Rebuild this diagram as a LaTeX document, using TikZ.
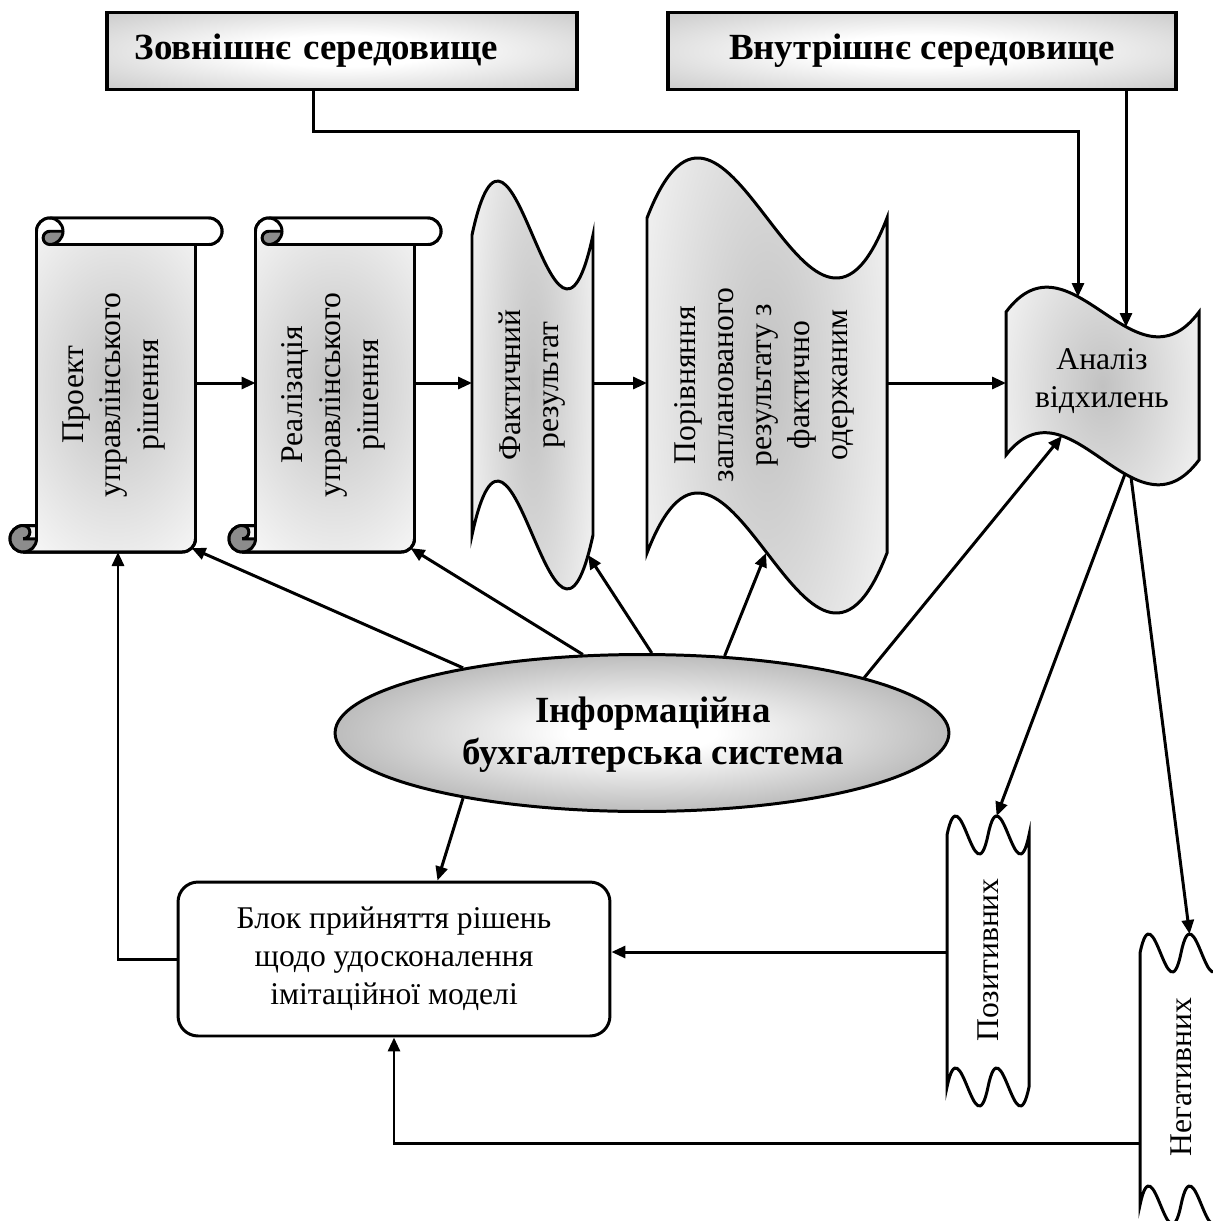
\documentclass[tikz,border=0pt]{standalone}
\usepackage{fontspec}
\setmainfont{Liberation Serif}
\usetikzlibrary{shapes.geometric,arrows.meta}
\pgfdeclareradialshading{bodyshade}{\pgfpoint{0bp}{0bp}}{color(0bp)=(black!24);
  color(14bp)=(black!15); color(32bp)=(black!3); color(42bp)=(white); color(50bp)=(white)}
\pgfdeclareradialshading{ovalshade}{\pgfpoint{0bp}{0bp}}{color(0bp)=(white);
  color(6bp)=(white); color(30bp)=(black!33); color(45bp)=(black!45); color(50bp)=(black!48)}
\pgfdeclareradialshading{envshade}{\pgfpoint{0bp}{0bp}}{color(0bp)=(white);
  color(10bp)=(white); color(35bp)=(black!20); color(50bp)=(black!32)}

\begin{document}
\begin{tikzpicture}[x=0.02cm,y=-0.02cm]
      \colorlet{curlgray}{black!45}
      \tikzset{thickln/.style={line width=1.7pt},
        conn/.style={thickln,-{Triangle[length=0.28cm,width=0.24cm]}},
        wavefill/.style n args={4}{path picture={\shade[shading=bodyshade] (#1,#2) rectangle (#3,#4);}},
        envbox/.style={draw,line width=2pt,shade,shading=envshade,
          minimum height=1.54cm,font=\fontsize{21}{24}\selectfont\bfseries},
        boldtxt/.style={font=\fontsize{21}{24}\selectfont\bfseries,align=center},
        txt/.style={font=\fontsize{18}{21.6}\selectfont,align=center,inner sep=0pt},
        vtxt/.style={txt,rotate=90}}
      \path[use as bounding box,clip] (0,0) rectangle (1213,1221);

      \node[envbox,minimum width=9.4cm,text width=8.3cm,align=left] (ext) at (342,51)
          {Зовнішнє середовище};
      \node[envbox,minimum width=10.16cm] (int) at (922,51) {Внутрішнє середовище};

      \foreach \sx in {10,229}{
        \begin{scope}[shift={(\sx,218)}]
          \draw[thickln,shade,shading=bodyshade] (26.5,307.5) -- (26.5,13.25)
              arc[start angle=180,end angle=270,radius=13.25] -- (198.75,0)
              arc[start angle=270,end angle=450,radius=13.25] -- (185.5,26.5) -- (185.5,320.75)
              arc[start angle=0,end angle=90,radius=13.25] -- (13.25,334)
              arc[start angle=90,end angle=270,radius=13.25] -- cycle;
          \fill[white] (39.75,0) -- (198.75,0) arc[start angle=270,end angle=450,radius=13.25]
              -- (39.75,26.5) arc[start angle=90,end angle=270,radius=13.25];
          \fill[curlgray] (53,13.25) arc[start angle=0,end angle=90,radius=13.25]
              arc[start angle=90,end angle=270,radius=6.625] -- cycle;
          \fill[curlgray] (26.5,320.75) arc[start angle=0,end angle=270,radius=13.25]
              arc[start angle=270,end angle=450,radius=6.625] -- cycle;
          \draw[thickln] (26.5,307.5) -- (26.5,13.25)
              arc[start angle=180,end angle=270,radius=13.25] -- (198.75,0)
              arc[start angle=270,end angle=450,radius=13.25] -- (185.5,26.5) -- (185.5,320.75)
              arc[start angle=0,end angle=90,radius=13.25] -- (13.25,334)
              arc[start angle=90,end angle=270,radius=13.25] -- cycle;
          \draw[thickln] (39.75,0) arc[start angle=270,end angle=450,radius=13.25]
              arc[start angle=90,end angle=270,radius=6.625] -- (53,13.25);
          \draw[thickln] (185.5,26.5) -- (39.75,26.5);
          \draw[thickln] (13.25,307.5) arc[start angle=270,end angle=450,radius=6.625]
              -- (26.5,320.75);
          \draw[thickln] (13.25,334) arc[start angle=90,end angle=0,radius=13.25] -- (26.5,307.5);
        \end{scope}
      }
      \draw[thickln,fill=white,wavefill={472}{180}{593}{590}] (472,235)
          .. controls (512.3,48) and (552.7,422) .. (593,235)
          -- (593,535) .. controls (552.7,722) and (512.3,348) .. (472,535) -- cycle;
      \draw[thickln,fill=white,wavefill={647}{158}{887}{613}] (647,218)
          .. controls (727,10) and (807,426) .. (887,218)
          -- (887,553) .. controls (807,761) and (727,345) .. (647,553) -- cycle;
      \draw[thickln,fill=white,wavefill={1006}{287}{1199}{483}] (1006,312)
          .. controls (1070.3,226) and (1134.7,398) .. (1199,312)
          -- (1199,460) .. controls (1134.7,546) and (1070.3,374) .. (1006,455) -- cycle;
      \foreach \sx/\sy in {0/0,193/118}
        \draw[thickln,fill=white,shift={(\sx,\sy)}] (947,835)
            .. controls (960.7,769) and (974.3,901) .. (988,835)
            .. controls (1001.7,769) and (1015.3,901) .. (1029,835) -- (1029,1087)
            .. controls (1015.3,1153) and (1001.7,1021) .. (988,1087)
            .. controls (974.3,1153) and (960.7,1021) .. (947,1087) -- cycle;

      \node[vtxt] (proj) at (114,395) {Проект\\управлінського\\рішення};
      \node[vtxt] (real) at (333,395) {Реалізація\\управлінського\\рішення};
      \node[vtxt] (fact) at (532,385) {Фактичний\\результат};
      \node[vtxt] (comp) at (764,385)
          {Порівняння\\запланованого\\результату з\\фактично\\одержаним};
      \node[txt] (anal) at (1102,381) {Аналіз\\відхилень};
      \node[vtxt] (pos) at (988,960) {Позитивних};
      \node[vtxt] (neg) at (1181,1077) {Негативних};
      \node[draw,thickln,ellipse,shade,shading=ovalshade,
          minimum width=12.28cm,minimum height=3.14cm] (ibs) at (642,733) {};
      \node[boldtxt] (ibs-t) at (653,735) {Інформаційна\\бухгалтерська система};
      \node[draw,thickln,txt,rounded corners=0.4cm,left color=white,middle color=black!26,
          right color=white,minimum width=8.64cm,minimum height=3.08cm] (block) at (394,959)
          {Блок прийняття рішень\\щодо удосконалення\\імітаційної моделі};

      \coordinate (proj-e) at (195.5,383);
      \coordinate (proj-s) at (118,552);
      \coordinate (proj-c) at (191.6,548.1);
      \coordinate (real-w) at (255.5,383);
      \coordinate (real-e) at (414.5,383);
      \coordinate (real-c) at (410.6,548.1);
      \coordinate (fact-w) at (472,383);
      \coordinate (fact-e) at (593,383);
      \coordinate (fact-s) at (588,555);
      \coordinate (comp-w) at (647,383);
      \coordinate (comp-e) at (887,383);
      \coordinate (comp-s) at (766,553);
      \coordinate (anal-w) at (1006,383);
      \coordinate (anal-n1) at (1078,297);
      \coordinate (anal-n2) at (1126,327);
      \coordinate (anal-s) at (1062,436);
      \coordinate (anal-s1) at (1125,474);
      \coordinate (anal-s2) at (1131,477);
      \coordinate (pos-n) at (996.6,816);
      \coordinate (pos-w) at (947,952);
      \coordinate (neg-n) at (1189.6,934);
      \coordinate (neg-w) at (1140,1143);

      \draw[conn] ([xshift=-0.58cm]ext.south) -- ++(0,40) -| (anal-n1);
      \draw[conn] (int.south -| anal-n2) -- (anal-n2);
      \draw[conn] (proj-e) -- (real-w);
      \draw[conn] (real-e) -- (fact-w);
      \draw[conn] (fact-e) -- (comp-w);
      \draw[conn] (comp-e) -- (anal-w);
      \draw[conn] (ibs.160) -- (proj-c);
      \draw[conn] (ibs.127) -- (real-c);
      \draw[conn] (ibs.83) -- (fact-s);
      \draw[conn] (ibs.43) -- (comp-s);
      \draw[conn] (ibs.14) -- (anal-s);
      \draw[conn] (ibs.200) -- (block.61);
      \draw[conn] (anal-s1) -- (pos-n);
      \draw[conn] (anal-s2) -- (neg-n);
      \draw[conn] (pos-w) -- (pos-w -| block.east);
      \draw[conn] (neg-w) -| (block.south);
      \draw[conn] (block.west) -| (proj-s);
\end{tikzpicture}
\end{document}
